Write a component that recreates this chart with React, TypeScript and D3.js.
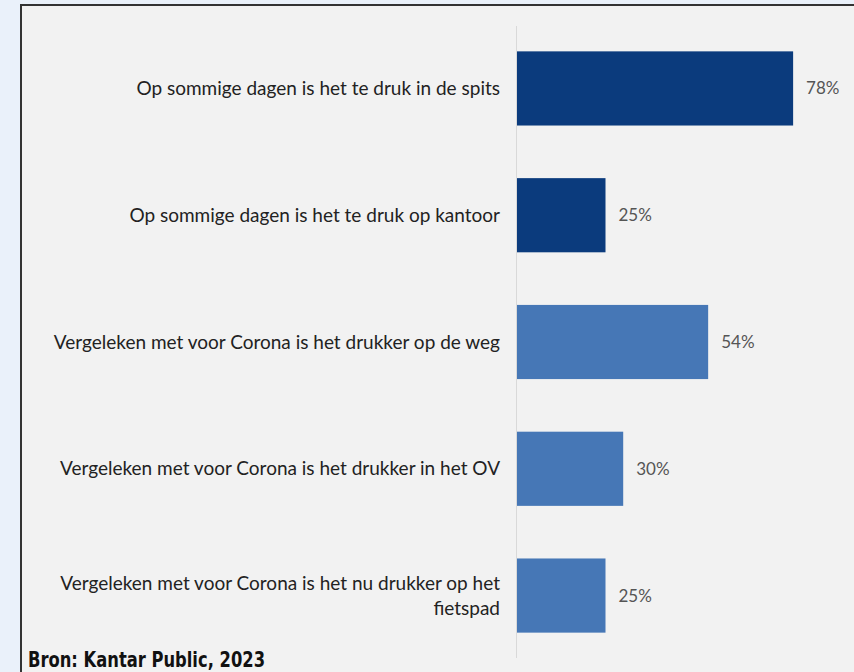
import React from "react";
import * as d3 from "d3";

const categories: string[][] = [
  ["Op sommige dagen is het te druk in de spits"],
  ["Op sommige dagen is het te druk op kantoor"],
  ["Vergeleken met voor Corona is het drukker op de weg"],
  ["Vergeleken met voor Corona is het drukker in het OV"],
  ["Vergeleken met voor Corona is het nu drukker op het", "fietspad"],
];
const values: number[] = [78, 25, 54, 30, 25];
const groups: number[] = [0, 0, 1, 1, 1];
const groupColors: string[] = ["#0b3b7d", "#4677b6"];
const sourceText = "Bron: Kantar Public, 2023";

export default function App() {
  const W = 854;
  const H = 672;
  const x0 = 517;
  const x = d3.scaleLinear().domain([0, 100]).range([x0, x0 + 354]);
  const y = d3
    .scaleBand<number>()
    .domain(categories.map((_, i) => i))
    .range([26, 658])
    .paddingInner(0.415)
    .paddingOuter(0.2);
  const font = "Lato, sans-serif";
  return (
    <svg
      width={W}
      height={H}
      style={{ position: "absolute", left: 0, top: 0, display: "block" }}
    >
      <rect x={0} y={0} width={W} height={H} fill="#eaf1fa" />
      <rect x={21} y={5} width={W} height={H} fill="#f2f2f2" stroke="#333" strokeWidth={2} />
      <line x1={x0 - 0.5} x2={x0 - 0.5} y1={26} y2={658} stroke="#d9d9d9" strokeWidth={1} />
      {categories.map((lines, i) => {
        const yc = (y(i) as number) + y.bandwidth() / 2;
        const n = lines.length;
        return (
          <g key={i}>
            <rect
              x={x(0)}
              y={y(i)}
              width={x(values[i]) - x(0)}
              height={y.bandwidth()}
              fill={groupColors[groups[i]]}
            />
            {lines.map((ln, j) => (
              <text
                key={j}
                x={500}
                y={yc + (j - (n - 1) / 2) * 25}
                dy="0.35em"
                textAnchor="end"
                fontFamily={font}
                fontSize={19}
                fill="#222"
              >
                {ln}
              </text>
            ))}
            <text
              x={x(values[i]) + 13}
              y={yc}
              dy="0.35em"
              fontFamily={font}
              fontSize={17}
              fill="#555"
            >
              {values[i]}%
            </text>
          </g>
        );
      })}
      <text
        x={28}
        y={667}
        fontFamily="'DejaVu Sans Condensed', 'DejaVu Sans', sans-serif"
        fontWeight="bold"
        fontSize={21}
        textLength={237}
        lengthAdjust="spacingAndGlyphs"
        fill="#111"
      >
        {sourceText}
      </text>
    </svg>
  );
}
